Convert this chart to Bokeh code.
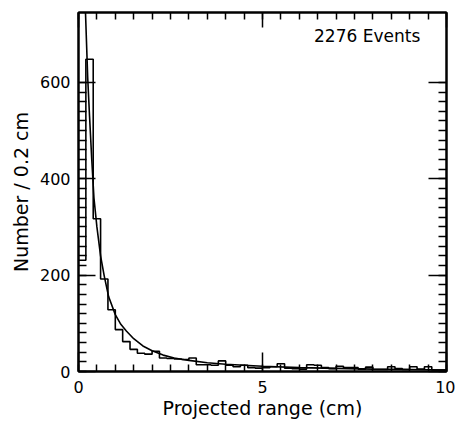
from bokeh.plotting import figure
from bokeh.models import LinearAxis, FixedTicker, Range1d, Label
from bokeh.embed import file_html
from bokeh.resources import INLINE

# Histogram: counts per 0.2 cm bin, from 0 to 10 cm
bin_edges = [round(0.2 * i, 1) for i in range(51)]
counts = [231, 648, 317, 192, 128, 87, 62, 46, 38, 36,
          42, 28, 27, 26, 25, 28, 14, 14, 13, 22,
          13, 10, 13, 8, 7, 8, 10, 16, 7, 6,
          5, 14, 13, 8, 6, 11, 8, 8, 5, 9,
          4, 4, 10, 6, 4, 10, 5, 10, 3, 3]

# Smooth fitted curve
curve_x = [0.19, 0.25, 0.3, 0.36, 0.42, 0.5, 0.6, 0.7, 0.82, 1.0, 1.15, 1.3,
           1.5, 1.75, 2.0, 2.3, 2.6, 3.0, 3.5, 4.0, 5.0, 6.0, 7.0, 8.0, 9.0, 10.0]
curve_y = [745, 610, 530, 440, 360, 300, 240, 198, 155, 118, 98, 84,
           68, 53, 43, 34, 28, 23, 18, 15, 11, 8, 6.5, 5, 4, 3]

x_major = [0, 5, 10]
y_major = [0, 200, 400, 600]
title_text = "2276 Events"
x_label = "Projected range (cm)"
y_label = "Number / 0.2 cm"

FONT = "DejaVu Sans"

p = figure(width=455, height=421, output_backend="svg", toolbar_location=None,
           x_range=Range1d(0, 10), y_range=Range1d(0, 745),
           min_border_left=78, min_border_right=9, min_border_top=12,
           min_border_bottom=48, x_axis_label=x_label, y_axis_label=y_label)
p.xgrid.visible = False
p.ygrid.visible = False
p.background_fill_color = "white"
p.border_fill_color = "white"
p.outline_line_color = "black"
p.outline_line_width = 2

# histogram outline
p.step(x=bin_edges, y=counts + [counts[-1]], mode="after",
       line_color="black", line_width=1.6)
# fitted curve
p.line(x=curve_x, y=curve_y, line_color="black", line_width=1.6)

def style(ax, major, minor_n, maj_in, min_in, labels=True):
    ax.ticker = FixedTicker(ticks=major,
                            minor_ticks=[major[0] + (major[-1] - major[0]) * k / ((len(major) - 1) * minor_n)
                                         for k in range((len(major) - 1) * minor_n + 1)])
    ax.axis_line_color = "black"
    ax.axis_line_width = 2
    ax.major_tick_line_color = "black"
    ax.major_tick_line_width = 1.5
    ax.minor_tick_line_color = "black"
    ax.minor_tick_line_width = 1.5
    ax.major_tick_in = maj_in
    ax.major_tick_out = 0
    ax.minor_tick_in = min_in
    ax.minor_tick_out = 0
    ax.major_label_text_font = FONT
    ax.major_label_text_color = "black"
    ax.axis_label_text_font = FONT
    ax.axis_label_text_font_style = "normal"
    ax.axis_label_text_color = "black"
    ax.axis_label_text_font_size = "19px"
    ax.major_label_text_font_size = "16px"
    if not labels:
        ax.major_label_overrides = {t: "" for t in major}
        ax.major_label_standoff = 0

xb = p.xaxis[0]
style(xb, x_major, 10, 19, 7)
xb.major_label_standoff = 9
xb.axis_label_standoff = 1

yl = p.yaxis[0]
style(yl, y_major, 10, 17, 8)
yl.major_label_standoff = 8
yl.axis_label_standoff = 5

xt = LinearAxis()
style(xt, x_major, 10, 15, 7, labels=False)
p.add_layout(xt, "above")

yr = LinearAxis()
style(yr, y_major, 10, 18, 8, labels=False)
p.add_layout(yr, "right")

p.add_layout(Label(x=6.4, y=697, text=title_text, text_font=FONT,
                   text_font_size="17px", text_color="black",
                   text_baseline="middle"))

open("out.html", "w").write(file_html(p, INLINE))
